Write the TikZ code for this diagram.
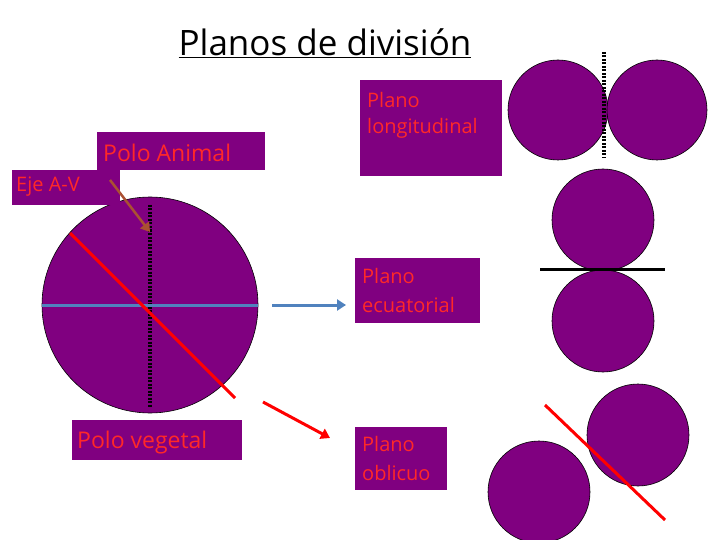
\documentclass[tikz,border=0pt]{standalone}
\usepackage{fontspec}
\setmainfont{Open Sans}
\usetikzlibrary{arrows.meta}
\definecolor{pur}{RGB}{128,0,128}
\definecolor{lab}{RGB}{255,40,40}
\definecolor{bl}{RGB}{80,130,190}
\definecolor{br}{RGB}{170,80,50}
\begin{document}
\begin{tikzpicture}[x=1pt,y=-1pt,
  cell/.style={circle,fill=pur,draw=black,line width=0.6pt,minimum size=#1,inner sep=0},
  box/.style={fill=pur,draw=none},
  lt/.style={text=lab,anchor=base west,inner sep=0pt,font=\fontsize{23}{27}\selectfont},
  st/.style={text=lab,anchor=base west,inner sep=0pt,font=\fontsize{20}{24}\selectfont},
  dot/.style={line width=3.5pt,dash pattern=on 2pt off 1.5pt},
  arr/.style={line width=3pt,-{Triangle[length=9pt,width=11pt]}}]
\useasboundingbox (0,0) rectangle (720,540);
\node (title) at (325,43) {\fontsize{35}{40}\selectfont\underline{Planos de división}};
\node[cell=216pt] (big) at (150,305) {};
\coordinate (vt) at (150,205); \coordinate (vb) at (150,408);
\draw[dot] (vt) -- (vb);
\coordinate (hl) at (42,305); \coordinate (hr) at (258,305);
\draw[bl,line width=3pt] (hl) -- (hr);
\coordinate (ot) at (70,233); \coordinate (ob) at (235,398);
\draw[red,line width=3pt] (ot) -- (ob);
\fill[box] (97,132) rectangle (265,170);
\node[lt] (pa) at (103,162) {Polo Animal};
\fill[box] (12,170) rectangle (120,205);
\node[st] (eje) at (16,192) {Eje A-V};
\coordinate (ea) at (110,180); \coordinate (eb) at (150,232);
\draw[arr,br,line width=2.5pt] (ea) -- (eb);
\fill[box] (72,420) rectangle (242,460);
\node[lt] (pv) at (77,448) {Polo vegetal};
\fill[box] (360,80) rectangle (502,176);
\node[st] (pl1) at (367,108) {Plano};
\node[st] (pl2) at (367,134) {longitudinal};
\fill[box] (355,258) rectangle (480,323);
\node[st] (pe1) at (362,283) {Plano};
\node[st] (pe2) at (362,312) {ecuatorial};
\fill[box] (355,427) rectangle (447,490);
\node[st] (po1) at (362,451) {Plano};
\node[st] (po2) at (362,480) {oblicuo};
\coordinate (ba) at (272,305); \coordinate (bb) at (346,305);
\draw[arr,bl] (ba) -- (bb);
\coordinate (ra) at (263,402); \coordinate (rb) at (330,438);
\draw[arr,red] (ra) -- (rb);
\node[cell=100pt] (c1) at (558,110) {};
\node[cell=100pt] (c2) at (657,110) {};
\coordinate (d1) at (604,52); \coordinate (d2) at (604,158);
\draw[dot] (d1) -- (d2);
\node[cell=102pt] (c3) at (603,220) {};
\node[cell=102pt] (c4) at (603,321) {};
\coordinate (e1) at (540,269); \coordinate (e2) at (665,269);
\draw[line width=3pt] (e1) -- (e2);
\node[cell=102pt] (c5) at (638,435) {};
\node[cell=102pt] (c6) at (539,492) {};
\coordinate (f1) at (545,405); \coordinate (f2) at (665,520);
\draw[red,line width=3pt] (f1) -- (f2);
\end{tikzpicture}
\end{document}
